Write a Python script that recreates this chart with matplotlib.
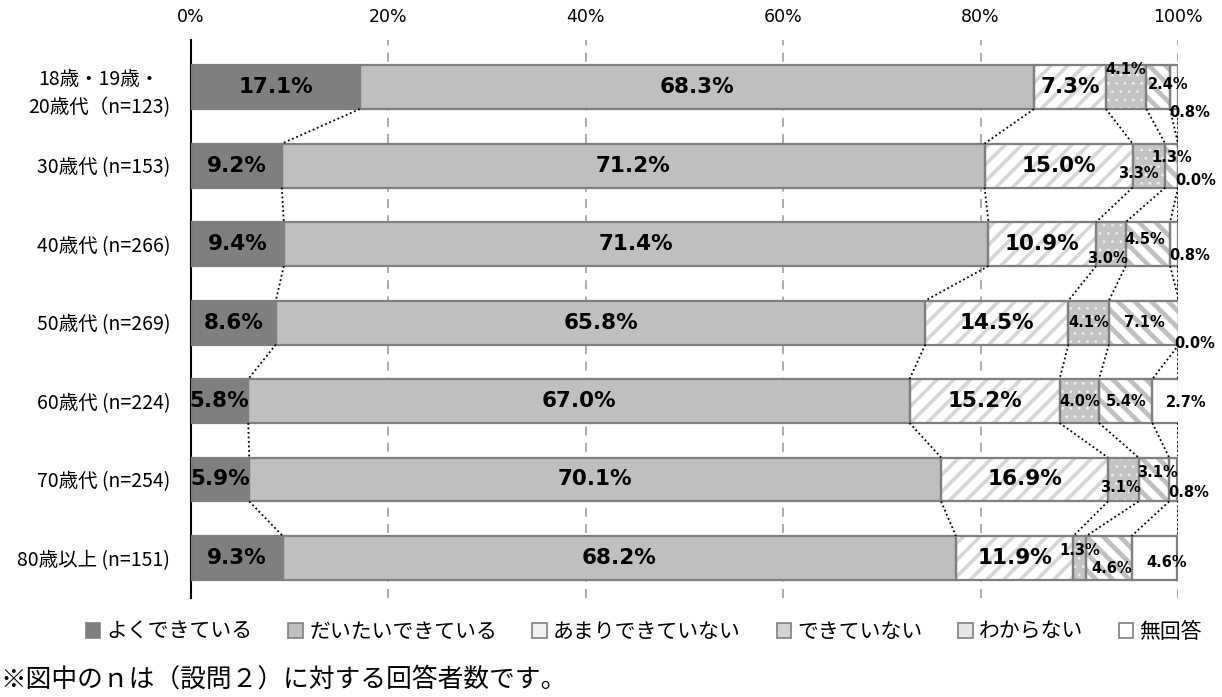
import matplotlib
matplotlib.use("Agg")
import matplotlib.pyplot as plt
import matplotlib.patches as mpatches
import numpy as np

plt.rcParams['font.family'] = ['Noto Sans CJK JP', 'DejaVu Sans']

groups = ["18歳・19歳・\n20歳代（n=123)", "30歳代 (n=153)", "40歳代 (n=266)", "50歳代 (n=269)",
          "60歳代 (n=224)", "70歳代 (n=254)", "80歳以上 (n=151)"]
categories = ["よくできている", "だいたいできている", "あまりできていない", "できていない", "わからない", "無回答"]
yoku     = [17.1, 9.2, 9.4, 8.6, 5.8, 5.9, 9.3]
daitai   = [68.3, 71.2, 71.4, 65.8, 67.0, 70.1, 68.2]
amari    = [7.3, 15.0, 10.9, 14.5, 15.2, 16.9, 11.9]
dekinai  = [4.1, 3.3, 3.0, 4.1, 4.0, 3.1, 1.3]
wakaranai = [2.4, 1.3, 4.5, 7.1, 5.4, 3.1, 4.6]
mukaitou = [0.8, 0.0, 0.8, 0.0, 2.7, 0.8, 4.6]
xticks = [0, 20, 40, 60, 80, 100]
xticklabels = ["0%", "20%", "40%", "60%", "80%", "100%"]
footnote = "※図中のｎは（設問２）に対する回答者数です。"

series = [yoku, daitai, amari, dekinai, wakaranai, mukaitou]
# style: (face, hatch, hatchcolor, hatch linewidth, legend face)
styles = [("#7f7f7f", None, None, 1.0, "#7f7f7f"),
          ("#bfbfbf", None, None, 1.0, "#bfbfbf"),
          ("#ffffff", "//", "#d6d6d6", 2.6, "#f2f2f2"),
          ("#c4c4c4", "..", "#eeeeee", 0.8, "#d4d4d4"),
          ("#ffffff", "\\\\", "#c0c0c0", 3.4, "#e6e6e6"),
          ("#ffffff", None, None, 1.0, "#ffffff")]
edge = "#7f7f7f"

# label offsets (dx in %, dy in row units) for small labels
offsets = {
    (0, 3): (0, -0.23), (0, 4): (1.0, -0.03), (0, 5): (1.6, 0.32),
    (1, 3): (-1.1, 0.10), (1, 4): (0, -0.10), (1, 5): (1.8, 0.19),
    (2, 3): (-0.3, 0.18), (2, 4): (-0.3, -0.06), (2, 5): (1.6, 0.15),
    (3, 5): (1.6, 0.27),
    (4, 5): (2.1, 0.02),
    (5, 3): (-0.3, 0.10), (5, 4): (0.4, -0.09), (5, 5): (1.6, 0.17),
    (6, 3): (0, -0.10), (6, 4): (0.3, 0.13), (6, 5): (1.3, 0.06),
}

fig = plt.figure(figsize=(12.22, 6.97), dpi=100)
ax = fig.add_axes([191/1222, 1-598/697, (1178-191)/1222, (598-40)/697])

n = len(groups)
y = np.arange(n)
h = 0.56
data = np.array(series)  # shape (6, n)
lefts = np.vstack([np.zeros(n), np.cumsum(data, axis=0)[:-1]])
cums = np.cumsum(data, axis=0)

for k, (vals, (face, hatch, hc, hlw, lf)) in enumerate(zip(series, styles)):
    if hatch:
        with plt.rc_context({'hatch.linewidth': hlw}):
            bars = ax.barh(y, vals, left=lefts[k], height=h, color=face, edgecolor=hc,
                           hatch=hatch, linewidth=0, zorder=2)
            for b in bars:
                if hasattr(b, "set_hatch_linewidth"):
                    b.set_hatch_linewidth(hlw)
    else:
        ax.barh(y, vals, left=lefts[k], height=h, color=face, linewidth=0, zorder=2)
    ax.barh(y, vals, left=lefts[k], height=h, fill=False, edgecolor=edge,
            linewidth=1.6, zorder=3)

# connectors
for i in range(n - 1):
    for k in range(6):
        x1 = cums[k][i] if k < 5 else 100
        x2 = cums[k][i + 1] if k < 5 else 100
        ax.plot([x1, x2], [i + h/2, i + 1 - h/2], color="black", lw=1.3,
                linestyle=(0, (1, 1.5)), zorder=4)

# labels
for i in range(n):
    for k in range(6):
        v = data[k][i]
        cx = lefts[k][i] + v / 2
        if k < 3:
            ax.text(cx, i, f"{v:.1f}%", ha="center", va="center", fontsize=15.5,
                    fontweight="bold", family="DejaVu Sans", zorder=6)
        else:
            dx, dy = offsets.get((i, k), (0, 0))
            ax.text(cx + dx, i + dy, f"{v:.1f}%", ha="center", va="center", fontsize=10.5,
                    fontweight="bold", family="DejaVu Sans", zorder=6)

# grid
for xv in xticks[1:]:
    ax.axvline(xv, color="#a6a6a6", lw=1.3, linestyle=(0, (5, 4)), zorder=0)

ax.set_xlim(0, 100)
ax.set_ylim(n - 1 + 0.51, -0.6)
ax.xaxis.tick_top()
ax.set_xticks(xticks)
ax.set_xticklabels(xticklabels, fontsize=12.5, family="DejaVu Sans")
ax.tick_params(axis="x", length=0, pad=10)
ax.set_yticks(y)
ax.set_yticklabels(groups, fontsize=14, linespacing=1.45, multialignment="center")
ax.tick_params(axis="y", length=0, pad=15)
for s in ["top", "right", "bottom"]:
    ax.spines[s].set_visible(False)
ax.spines["left"].set_color("black")
ax.spines["left"].set_linewidth(1.5)

handles = []
for (face, hatch, hc, hlw, lf), lab in zip(styles, categories):
    handles.append(mpatches.Patch(facecolor=lf, edgecolor=edge, linewidth=1.2, label=lab))
fig.legend(handles=handles, loc="center", bbox_to_anchor=(0.527, 1-632/697), ncol=6,
           frameon=False, fontsize=15, handlelength=0.7, handleheight=0.7,
           handletextpad=0.3, columnspacing=1.7)

fig.text(0.0, 1-680/697, footnote, fontsize=18.5, va="center", ha="left")

fig.savefig("out.png", dpi=100)
